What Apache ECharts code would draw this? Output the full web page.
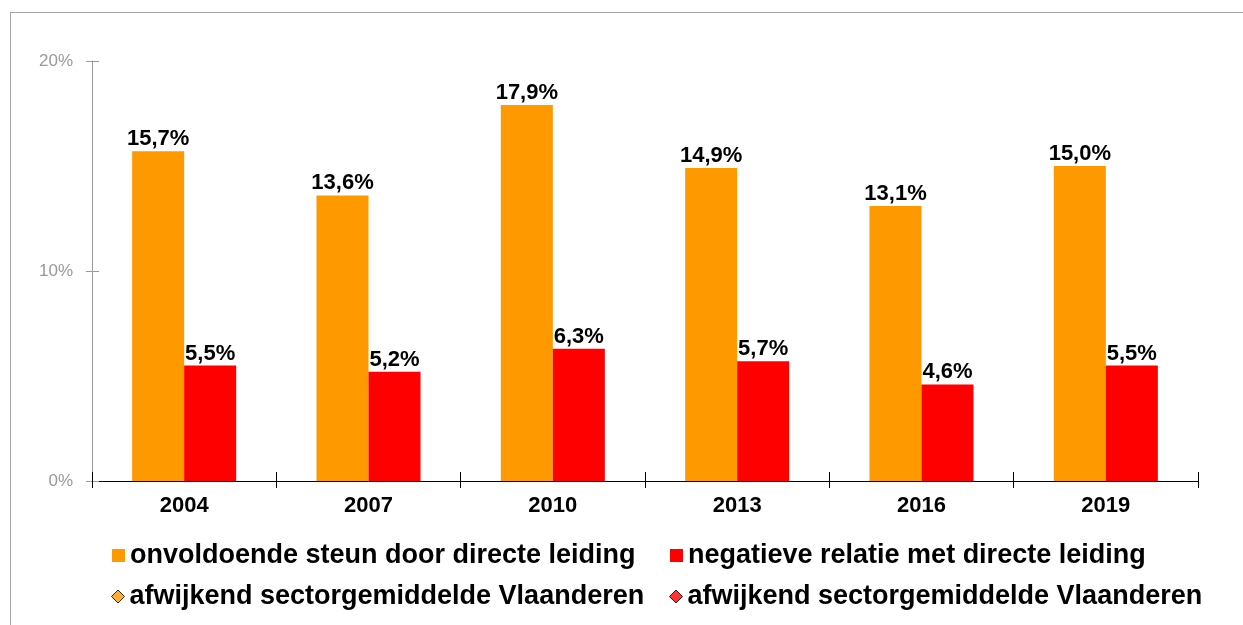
<!DOCTYPE html>
<html>
<head>
<meta charset="utf-8">
<script src="https://cdn.jsdelivr.net/npm/echarts@6/dist/echarts.min.js"></script>
<style>
  html, body { margin: 0; padding: 0; background: #fff; }
  #frame { position: absolute; left: 10px; top: 12px; width: 1240px; height: 620px; border: 1px solid #a6a6a6; box-sizing: border-box; }
  #chart { position: absolute; left: 0; top: 0; width: 1243px; height: 625px; }
</style>
</head>
<body>
<div id="frame"></div>
<div id="chart"></div>
<script>
const years = ['2004', '2007', '2010', '2013', '2016', '2019'];
const steun = [15.7, 13.6, 17.9, 14.9, 13.1, 15.0];
const relatie = [5.5, 5.2, 6.3, 5.7, 4.6, 5.5];
const yTicks = [0, 10, 20];

const nameSteun = 'onvoldoende steun door directe leiding';
const nameRelatie = 'negatieve relatie met directe leiding';
const nameAfw1 = 'afwijkend sectorgemiddelde Vlaanderen';
const nameAfw2 = 'afwijkend sectorgemiddelde Vlaanderen ';

const font = 'Liberation Sans, Arial, sans-serif';
const chart = echarts.init(document.getElementById('chart'));

const valueLabel = {
  show: true,
  position: 'top',
  distance: 1,
  color: '#000',
  fontFamily: font,
  fontWeight: 'bold',
  fontSize: 22,
  formatter: p => p.value.toFixed(1).replace('.', ',') + '%'
};

const legendBase = {
  orient: 'horizontal',
  itemWidth: 13,
  itemHeight: 13,
  itemGap: 10,
  textStyle: { color: '#000', fontFamily: font, fontWeight: 'bold', fontSize: 27 }
};

chart.setOption({
  animation: false,
  textStyle: { fontFamily: font },
  grid: { left: 92, right: 45, top: 61, bottom: 144 },
  legend: [
    { ...legendBase, left: 107, top: 537, icon: 'rect', data: [nameSteun] },
    { ...legendBase, left: 665, top: 537, icon: 'rect', data: [nameRelatie] },
    { ...legendBase, left: 106, top: 578, icon: 'diamond', data: [{ name: nameAfw1, itemStyle: { color: '#ff9900', borderColor: '#000', borderWidth: 1 } }] },
    { ...legendBase, left: 664, top: 578, icon: 'diamond', data: [{ name: nameAfw2, itemStyle: { color: '#ff0000', borderColor: '#000', borderWidth: 1 } }] }
  ],
  xAxis: [
    {
      type: 'category',
      data: years,
      axisLine: { lineStyle: { color: '#000', width: 1 } },
      axisTick: { show: true, length: 7, lineStyle: { color: '#000' } },
      axisLabel: { color: '#000', fontWeight: 'bold', fontSize: 22, margin: 14 }
    },
    {
      type: 'category',
      data: years,
      position: 'bottom',
      axisLine: { show: false },
      axisTick: { show: true, inside: true, length: 9, lineStyle: { color: '#000' } },
      axisLabel: { show: false }
    }
  ],
  yAxis: [
    {
      type: 'value',
      min: yTicks[0],
      max: yTicks[yTicks.length - 1],
      interval: 10,
      axisLine: { show: true, lineStyle: { color: '#999' } },
      axisTick: { show: true, length: 6, lineStyle: { color: '#999' } },
      axisLabel: { color: '#999', fontSize: 17, margin: 19, formatter: v => v + '%' },
      splitLine: { show: false }
    },
    {
      type: 'value',
      position: 'left',
      min: yTicks[0],
      max: yTicks[yTicks.length - 1],
      interval: 10,
      axisLine: { show: false },
      axisTick: { show: true, inside: true, length: 7, lineStyle: { color: '#999' } },
      axisLabel: { show: false },
      splitLine: { show: false }
    }
  ],
  series: [
    {
      name: nameSteun,
      type: 'bar',
      data: steun,
      barWidth: 52,
      barGap: '0%',
      itemStyle: { color: '#ff9900' },
      label: valueLabel
    },
    {
      name: nameRelatie,
      type: 'bar',
      data: relatie,
      barWidth: 52,
      barGap: '0%',
      itemStyle: { color: '#ff0000' },
      label: valueLabel
    },
    {
      name: nameAfw1,
      type: 'scatter',
      symbol: 'diamond',
      data: [],
      itemStyle: { color: '#ff9900', borderColor: '#000', borderWidth: 1 }
    },
    {
      name: nameAfw2,
      type: 'scatter',
      symbol: 'diamond',
      data: [],
      itemStyle: { color: '#ff0000', borderColor: '#000', borderWidth: 1 }
    }
  ]
});
</script>
</body>
</html>
